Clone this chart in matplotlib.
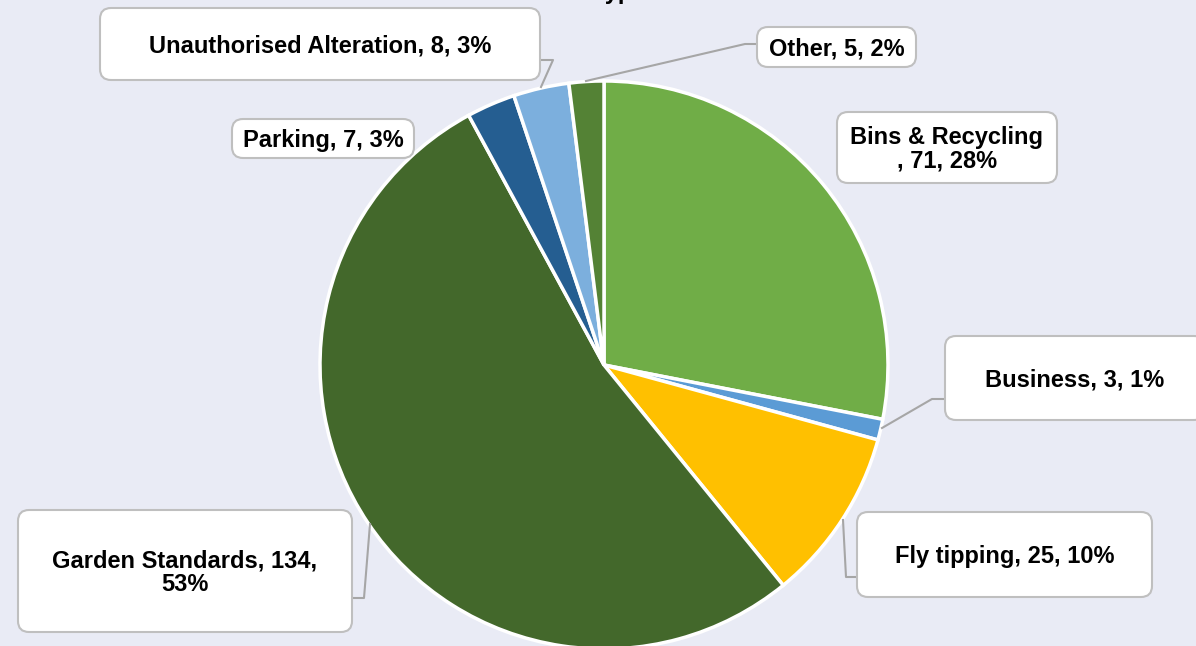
import matplotlib
matplotlib.use("Agg")
import matplotlib.pyplot as plt
from matplotlib.patches import FancyBboxPatch

categories = ["Bins & Recycling", "Business", "Fly tipping", "Garden Standards",
              "Parking", "Unauthorised Alteration", "Other"]
values = [71, 3, 25, 134, 7, 8, 5]
colors = ["#70AD47", "#5B9BD5", "#FFC000", "#43682B", "#255E91", "#7CAFDD", "#548235"]
title = "Case Type"

W, H = 1196, 646
BG = "#E9EBF5"
fig = plt.figure(figsize=(W / 100, H / 100), dpi=100, facecolor=BG)
ax = fig.add_axes([0, 0, 1, 1])
ax.set_facecolor(BG)

cx, cy, r = 604, H - 365, 284
ax.pie(values, colors=colors, startangle=90, counterclock=False,
       center=(cx, cy), radius=r,
       wedgeprops=dict(edgecolor="white", linewidth=2.5), frame=True)
ax.set_xlim(0, W)
ax.set_ylim(0, H)
ax.set_aspect("auto")
ax.axis("off")

total = sum(values)

# label box layout (pixel coords, top-down): x0, y0, x1, y1, line-break style
layout = {
    "Bins & Recycling": (837, 112, 1057, 183, "name"),
    "Business": (945, 336, 1205, 420, None),
    "Fly tipping": (857, 512, 1152, 597, None),
    "Garden Standards": (18, 510, 352, 632, "pct"),
    "Parking": (232, 119, 414, 158, None),
    "Unauthorised Alteration": (100, 8, 540, 80, None),
    "Other": (757, 27, 916, 67, None),
}
for c, v in zip(categories, values):
    x0, y0, x1, y1, brk = layout[c]
    pct = round(100 * v / total)
    if brk is None:
        t = f"{c}, {v}, {pct}%"
    elif brk == "name":
        t = f"{c}\n, {v}, {pct}%"
    else:
        t = f"{c}, {v},\n{pct}%"
    box = FancyBboxPatch((x0, H - y1), x1 - x0, y1 - y0,
                         boxstyle="round,pad=0,rounding_size=11",
                         facecolor="white", edgecolor="#BFBFBF", linewidth=1.5,
                         zorder=5)
    ax.add_patch(box)
    ax.text((x0 + x1) / 2, H - (y0 + y1) / 2 - 2, t, ha="center", va="center",
            fontsize=17, fontweight="bold", family="Liberation Sans",
            color="black", linespacing=1.05, zorder=6)

# leader lines (pixel coords, top-down)
leaders = [
    [(882, 428), (932, 399), (945, 399)],
    [(843, 520), (846, 577), (857, 577)],
    [(370, 524), (364, 598), (352, 598)],
    [(541, 87), (553, 60), (540, 60)],
    [(586, 81), (745, 44), (757, 44)],
]
for pts in leaders:
    xs = [p[0] for p in pts]
    ys = [H - p[1] for p in pts]
    ax.plot(xs, ys, color="#A6A6A6", linewidth=1.5, zorder=4)

# chart title: sits above the visible area, only its descenders show (as in the reference)
ax.text(587, H + 1, title, ha="center", va="baseline", fontsize=17,
        fontweight="bold", family="Liberation Sans", color="black", clip_on=False)

fig.savefig("out.png", dpi=100, facecolor=BG)
